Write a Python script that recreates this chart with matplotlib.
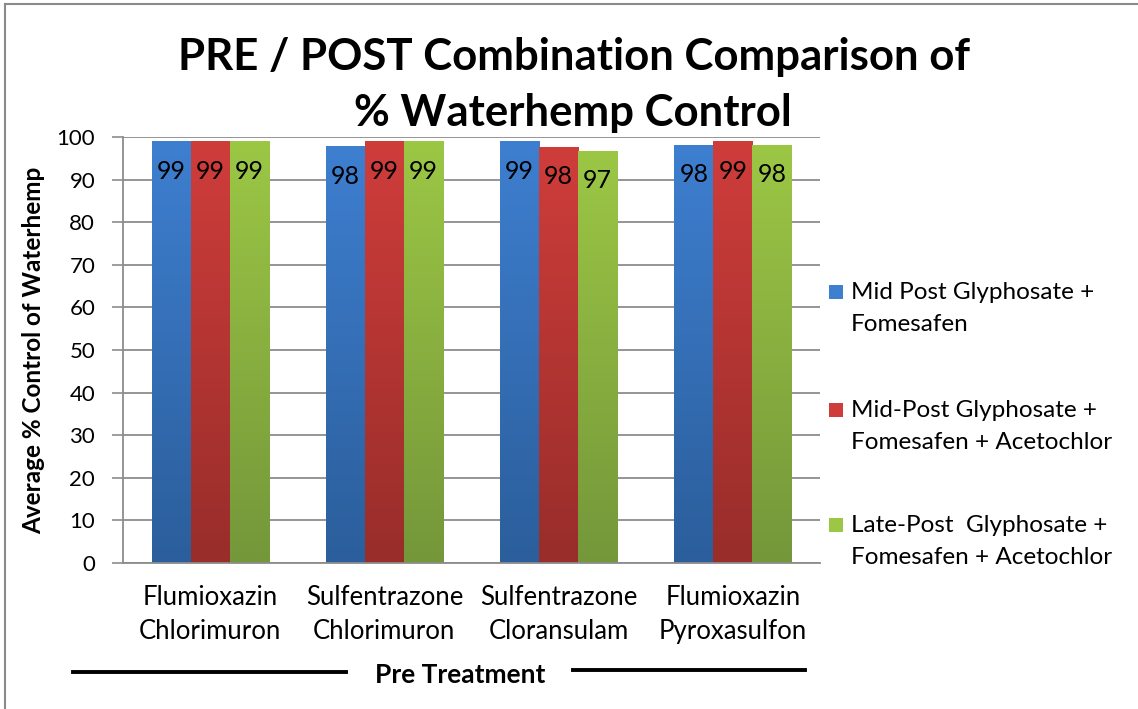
import matplotlib
matplotlib.use("Agg")
import matplotlib.pyplot as plt
import numpy as np
from matplotlib.colors import LinearSegmentedColormap
from matplotlib.patches import Rectangle
from matplotlib.lines import Line2D

# ---- data ----
categories = ["Flumioxazin\nChlorimuron", "Sulfentrazone\nChlorimuron",
              "Sulfentrazone\nCloransulam", "Flumioxazin\nPyroxasulfon"]
series_names = ["Mid Post Glyphosate +\nFomesafen",
                "Mid-Post Glyphosate +\nFomesafen + Acetochlor",
                "Late-Post  Glyphosate +\nFomesafen + Acetochlor"]
mid_post = [99.0, 97.8, 99.0, 98.2]
mid_post_aceto = [99.0, 99.0, 97.7, 99.0]
late_post_aceto = [99.0, 99.0, 96.8, 98.2]
series_values = [mid_post, mid_post_aceto, late_post_aceto]
yticks = list(range(0, 101, 10))

top_colors = ["#3E7FD0", "#CF3D3B", "#9CC745"]
bottom_colors = ["#2B5E9B", "#982D2A", "#74973A"]

FONT = "Lato"
plt.rcParams['font.family'] = [FONT, 'DejaVu Sans']

fig = plt.figure(figsize=(11.38, 7.09), dpi=100)
W, H = 1138, 709
ax = fig.add_axes([123 / W, 1 - 563 / H, (820 - 123) / W, (563 - 137) / H])

x = np.arange(len(categories))
bw = 0.224
offsets = [-bw, 0, bw]
grad = np.linspace(0, 1, 256).reshape(-1, 1)
for i, vals in enumerate(series_values):
    bars = ax.bar(x + offsets[i], vals, width=bw, color=top_colors[i], zorder=2,
                  linewidth=0)
    cmap = LinearSegmentedColormap.from_list("g%d" % i, [bottom_colors[i], top_colors[i]])
    for rect, v in zip(bars, vals):
        bx, by = rect.get_x(), rect.get_y()
        w, h = rect.get_width(), rect.get_height()
        im = ax.imshow(grad, extent=[bx, bx + w, by, by + h], origin='lower',
                       cmap=cmap, aspect='auto', zorder=2.1, interpolation='bilinear')
        im.set_clip_path(rect)
        ax.annotate("%d" % round(v), xy=(rect.get_x() + w / 2, v), xytext=(0, -21.5),
                    textcoords='offset points', ha='center', va='center',
                    fontsize=18, color='black', zorder=3)

ax.set_xlim(-0.5, len(categories) - 0.5)
ax.set_ylim(0, 100)
ax.set_yticks(yticks)
ax.set_xticks(x)
ax.set_xticklabels(categories, fontsize=18.5, linespacing=1.42)
ax.tick_params(axis='x', length=0, pad=16)
ax.tick_params(axis='y', length=8, width=1.2, color='#8C8C8C', labelsize=16, pad=12)
ax.yaxis.grid(True, color='#8C8C8C', linewidth=1.3, zorder=0)
ax.set_axisbelow(True)
for s in ['top', 'right']:
    ax.spines[s].set_visible(False)
for s in ['left', 'bottom']:
    ax.spines[s].set_color('#8C8C8C')
    ax.spines[s].set_linewidth(1.3)

ax.set_ylabel("Average % Control of Waterhemp", fontsize=17.5, fontweight='bold')
ax.yaxis.set_label_coords(-(123 - 45) / (820 - 123), 0.5)

# title
fig.text(574 / W, 1 - 57 / H, "PRE / POST Combination Comparison of", ha='center', va='center',
         fontsize=31.5, fontweight='bold')
fig.text(573 / W, 1 - 113 / H, "% Waterhemp Control", ha='center', va='center',
         fontsize=31.5, fontweight='bold')

# legend
leg_y = [292, 410, 525]
for i, name in enumerate(series_names):
    yc = leg_y[i]
    fig.patches.append(Rectangle((829 / W, 1 - (yc + 7) / H), 14 / W, 14 / H,
                                 transform=fig.transFigure, facecolor=top_colors[i],
                                 edgecolor='none'))
    fig.text(851 / W, 1 - (yc + 16.5) / H, name, ha='left', va='center', fontsize=17.5,
             linespacing=1.7, transform=fig.transFigure)

# x-axis group title with lines
fig.text(460 / W, 1 - 675 / H, "Pre Treatment", ha='center', va='center',
         fontsize=19, fontweight='bold')
fig.add_artist(Line2D([73 / W, 346 / W], [1 - 672 / H, 1 - 672 / H], color='black', linewidth=2.8))
fig.add_artist(Line2D([573 / W, 805 / W], [1 - 670 / H, 1 - 670 / H], color='black', linewidth=2.8))

# outer border
fig.add_artist(Line2D([5 / W, 1], [1 - 4 / H, 1 - 4 / H], color='#8A8A8A', linewidth=1.5))
fig.add_artist(Line2D([5 / W, 5 / W], [0, 1 - 4 / H], color='#8A8A8A', linewidth=1.5))

fig.savefig("out.png", dpi=100)
